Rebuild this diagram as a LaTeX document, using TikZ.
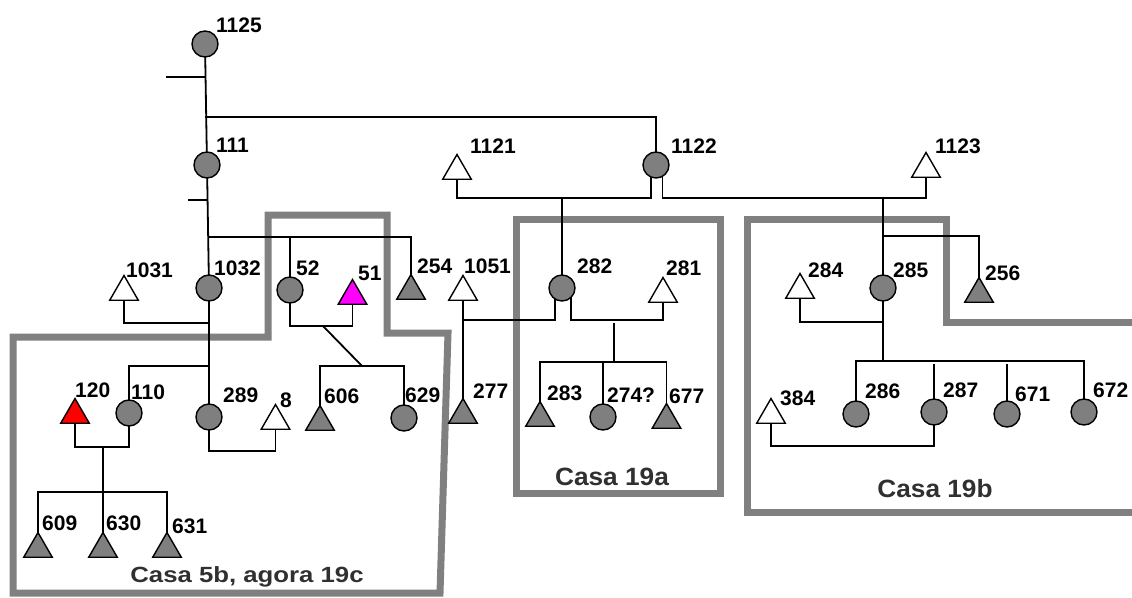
\documentclass[tikz,border=0pt]{standalone}
\usepackage{fontspec}
\usepackage{graphicx}
\setmainfont{Liberation Sans}
\usetikzlibrary{shapes.geometric,calc}
\definecolor{boxgrey}{HTML}{808080}
\definecolor{fillgrey}{HTML}{7F7F7F}
\definecolor{casagrey}{HTML}{303030}
\definecolor{magent}{HTML}{FF00FF}
\definecolor{redfill}{HTML}{FF0000}
\tikzset{
  fem/.style={circle, draw=black, line width=1.4pt, fill=fillgrey, minimum size=26pt, inner sep=0pt, outer sep=0pt},
  tri/.style={regular polygon, regular polygon sides=3, draw=black, line width=1.4pt, minimum size=33pt, inner sep=0pt, outer sep=0pt},
  malegrey/.style={tri, fill=fillgrey},
  maleopen/.style={tri, fill=white},
  malered/.style={tri, fill=redfill},
  malemag/.style={tri, fill=magent},
  lab/.style={anchor=base west, inner sep=0pt, font=\bfseries\fontsize{21}{21}\selectfont},
  casa/.style={anchor=base, inner sep=0pt, text=casagrey, font=\bfseries\fontsize{25}{25}\selectfont},
  ln/.style={line width=1.8pt, draw=black},
  housebox/.style={line width=7pt, draw=boxgrey}
}
\begin{document}
\begin{tikzpicture}[x=1pt,y=-1pt]
\useasboundingbox (0,0) rectangle (1132,597);
% household boxes
\draw[housebox] (13,337) -- (268,337) -- (268,215) -- (387,215) -- (387,333) -- (448,333) -- (440,593) -- (13,593) -- cycle;
\draw[housebox] (516,219) rectangle (720,493);
\draw[housebox] (1145,322) -- (946,322) -- (946,219) -- (747,219) -- (747,512) -- (1145,512);
% persons
\node[fem] (n1125) at (205,44) {};
\node[fem] (n111) at (207,165) {};
\node[fem] (n1122) at (656,165) {};
\node[maleopen] (n1121) at (457,171) {};
\node[maleopen] (n1123) at (926,169) {};
\node[maleopen] (n1031) at (124,292) {};
\node[fem] (n1032) at (209,288) {};
\node[fem] (n52) at (290,290) {};
\node[malemag] (n51) at (352.5,296) {};
\node[malegrey] (n254) at (411,291) {};
\node[maleopen] (n1051) at (463,292) {};
\node[fem] (n282) at (562,288) {};
\node[maleopen] (n281) at (663,294) {};
\node[maleopen] (n284) at (800,290) {};
\node[fem] (n285) at (883,288) {};
\node[malegrey] (n256) at (979,294) {};
\node[malered] (n120) at (75,415) {};
\node[fem] (n110) at (129,413) {};
\node[fem] (n289) at (209,417) {};
\node[maleopen] (n8) at (275.5,421) {};
\node[malegrey] (n606) at (320,422) {};
\node[fem] (n629) at (404,418) {};
\node[malegrey] (n277) at (463,415) {};
\node[malegrey] (n283) at (540,418) {};
\node[fem] (n274) at (603,417) {};
\node[malegrey] (n677) at (666.5,420) {};
\node[maleopen] (n384) at (771,415) {};
\node[fem] (n286) at (856,414) {};
\node[fem] (n287) at (934,412) {};
\node[fem] (n671) at (1007,414) {};
\node[fem] (n672) at (1084,412) {};
\node[malegrey] (n609) at (38,549) {};
\node[malegrey] (n630) at (103,549) {};
\node[malegrey] (n631) at (167,549) {};
% labels
\node[lab] (l1125) at (216,32) {1125};
\node[lab] (l111) at (216,152) {111};
\node[lab] (l1121) at (470,153) {1121};
\node[lab] (l1122) at (671,153) {1122};
\node[lab] (l1123) at (935,153) {1123};
\node[lab] (l1031) at (126,277) {1031};
\node[lab] (l1032) at (214,275) {1032};
\node[lab] (l52) at (296,275) {52};
\node[lab] (l51) at (358,280) {51};
\node[lab] (l254) at (417,273) {254};
\node[lab] (l1051) at (464,273) {1051};
\node[lab] (l282) at (577,273) {282};
\node[lab] (l281) at (666,275) {281};
\node[lab] (l284) at (808,277) {284};
\node[lab] (l285) at (893,277) {285};
\node[lab] (l256) at (985,280) {256};
\node[lab] (l120) at (75,397) {120};
\node[lab] (l110) at (131,399) {110};
\node[lab] (l289) at (223,402) {289};
\node[lab] (l8) at (280,407) {8};
\node[lab] (l606) at (324,403) {606};
\node[lab] (l629) at (405,402) {629};
\node[lab] (l277) at (473,398) {277};
\node[lab] (l283) at (547,400) {283};
\node[lab] (l274) at (607,402) {274?};
\node[lab] (l677) at (669,403) {677};
\node[lab] (l384) at (780,405) {384};
\node[lab] (l286) at (865,398) {286};
\node[lab] (l287) at (943,397) {287};
\node[lab] (l671) at (1015,401) {671};
\node[lab] (l672) at (1093,397) {672};
\node[lab] (l609) at (42,530) {609};
\node[lab] (l630) at (106,530) {630};
\node[lab] (l631) at (172,533) {631};
% house names
\node[casa] (c5b) at (247,582) {\scalebox{1.03}[0.88]{Casa 5b, agora 19c}};
\node[casa] (c19a) at (612,485) {\scalebox{1.05}[1]{Casa 19a}};
\node[casa] (c19b) at (935,497) {\scalebox{1.05}[1]{Casa 19b}};
% helper coordinates
\coordinate (t1) at (166,77);
\coordinate (j0) at (205,117);
\coordinate (t2) at (188,200);
\coordinate (j1) at (209,237);
\coordinate (m1) at (209,323);
\coordinate (s1) at (209,366);
\coordinate (m3) at (0,451);
\coordinate (m4) at (0,447);
\coordinate (d4) at (103,447);
\coordinate (s4) at (103,492);
\coordinate (m5) at (0,326);
\coordinate (d5) at (323,326);
\coordinate (s5) at (362,366);
\coordinate (m6) at (0,198);
\coordinate (m7) at (0,320);
\coordinate (d7) at (614,323);
\coordinate (s7) at (614,362);
\coordinate (d8) at (883,198);
\coordinate (b8) at (883,236);
\coordinate (m8) at (883,322);
\coordinate (s8) at (883,361);
\coordinate (g8) at (0,364);
\coordinate (m9) at (0,446);
% connectors
\draw[ln] (n1125) -- (n111);
\draw[ln] (t1) -- (t1 -| j0);
\draw[ln] (j0) -| (n1122);
\draw[ln] (n111) -- (n1032);
\draw[ln] (t2) -- (t2 -| n111);
\draw[ln] (j1) -| (n254.corner 1);
\draw[ln] (j1 -| n52) -- (n52);
\draw[ln] (n1031.side 2) |- (m1);
\draw[ln] (n1032) -- (n289);
\draw[ln] (n110) |- (s1);
\draw[ln] (n289) |- (n8.side 2 |- m3) -- (n8.side 2);
\draw[ln] (n120.side 2) |- (n110 |- m4) -- (n110);
\draw[ln] (d4) -- (s4);
\draw[ln] (n609.corner 1) |- (s4 -| n631.corner 1) -- (n631.corner 1);
\draw[ln] (s4) -- (n630.corner 1);
\draw[ln] (n52) |- (n51.side 2 |- m5) -- (n51.side 2);
\draw[ln] (d5) -- (s5);
\draw[ln] (n606.corner 1) |- (s5 -| n629) -- (n629);
\draw[ln] (n1122.-112) |- (n1121.side 2 |- m6) -- (n1121.side 2);
\draw[ln] (n1122.-60) |- (n1123.side 2 |- m6) -- (n1123.side 2);
\draw[ln] (n282 |- m6) -- (n282);
\draw[ln] (n282.-123) |- (n1051.side 2 |- m7);
\draw[ln] (n1051.side 2) -- (n277.corner 1);
\draw[ln] (n282.-46) |- (n281.side 2 |- m7) -- (n281.side 2);
\draw[ln] (d7) -- (s7);
\draw[ln] (n283.corner 1) |- (s7 -| n677.corner 1) -- (n677.corner 1);
\draw[ln] (n274 |- s7) -- (n274);
\draw[ln] (d8) -- (n285);
\draw[ln] (b8) -| (n256.corner 1);
\draw[ln] (n284.side 2) |- (m8);
\draw[ln] (n285) -- (s8);
\draw[ln] (n286) |- (s8 -| n672) -- (n672);
\draw[ln] (n287 |- g8) -- (n287);
\draw[ln] (n671 |- g8) -- (n671);
\draw[ln] (n287) |- (n384.side 2 |- m9) -- (n384.side 2);
\end{tikzpicture}
\end{document}
